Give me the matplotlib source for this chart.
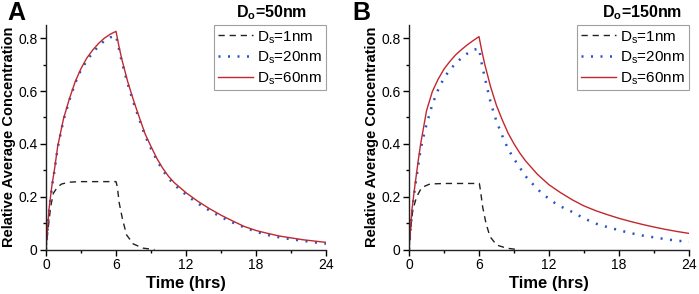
import matplotlib
matplotlib.use('Agg')
import matplotlib.pyplot as plt
from matplotlib.ticker import MultipleLocator, FuncFormatter

plt.rcParams['font.family'] = ['Liberation Sans', 'DejaVu Sans']
plt.rcParams['mathtext.fontset'] = 'custom'
plt.rcParams['mathtext.rm'] = 'Liberation Sans'
plt.rcParams['mathtext.bf'] = 'Liberation Sans:bold'

# ── Data ──────────────────────────────────────────────────────────────────────
# Panel A, Do = 50 nm
a_t1 = [0, 0.2, 0.4, 0.63, 1, 1.34, 2, 3, 4, 5, 6, 6.11, 6.28, 6.57, 6.91, 7.48, 8.34, 9.05, 9.3]
a_y1 = [0, 0.086, 0.162, 0.213, 0.237, 0.248, 0.255, 0.257, 0.257, 0.257, 0.257,
        0.238, 0.175, 0.112, 0.055, 0.021, 0.005, 0.001, 0]

a_t20 = [0, 0.25, 0.5, 0.75, 1, 1.5, 2, 2.5, 3, 3.5, 4, 4.5, 5, 5.5, 6,
         6.25, 6.5, 7, 7.5, 8, 8.5, 9, 9.5, 10, 10.5, 11, 12, 13, 14, 15, 16,
         17, 18, 19, 20, 21, 22, 23, 24]
a_y20 = [0, 0.14, 0.235, 0.305, 0.385, 0.49, 0.565, 0.63, 0.68, 0.715, 0.745, 0.77, 0.79, 0.803, 0.81,
         0.76, 0.71, 0.628, 0.556, 0.492, 0.43, 0.382, 0.338, 0.3, 0.27, 0.245, 0.207, 0.175, 0.148,
         0.123, 0.102, 0.084, 0.067, 0.055, 0.046, 0.039, 0.033, 0.027, 0.022]

a_t60 = [0, 0.25, 0.5, 0.75, 1, 1.5, 2, 2.5, 3, 3.5, 4, 4.5, 5, 5.5, 6,
         6.25, 6.5, 7, 7.5, 8, 8.5, 9, 9.5, 10, 10.5, 11, 12, 13, 14, 15, 16,
         17, 18, 19, 20, 21, 22, 23, 24]
a_y60 = [0, 0.15, 0.24, 0.31, 0.39, 0.495, 0.57, 0.635, 0.685, 0.725, 0.755, 0.78, 0.80, 0.815, 0.826,
         0.77, 0.72, 0.636, 0.565, 0.50, 0.437, 0.39, 0.345, 0.308, 0.277, 0.253, 0.215, 0.183, 0.155,
         0.13, 0.108, 0.087, 0.072, 0.061, 0.051, 0.044, 0.037, 0.032, 0.027]

# Panel B, Do = 150 nm
b_t1 = [0, 0.15, 0.32, 0.66, 1.09, 1.8, 3, 4, 5, 6.03, 6.14, 6.31, 6.6, 6.94, 7.51, 8.37, 9.1, 9.4]
b_y1 = [0, 0.08, 0.15, 0.2, 0.235, 0.248, 0.25, 0.25, 0.25, 0.25,
        0.219, 0.162, 0.099, 0.049, 0.017, 0.005, 0.001, 0]

b_t20 = [0, 0.25, 0.5, 1, 1.37, 1.6, 2, 2.5, 3, 3.5, 4, 4.5, 5, 5.5, 6,
         6.25, 6.5, 7, 7.5, 8, 8.5, 9, 9.5, 10, 10.5, 11, 11.5, 12, 12.5, 13, 14, 15, 16,
         17, 18, 19, 20, 21, 22, 23, 24]
b_y20 = [0, 0.14, 0.23, 0.38, 0.452, 0.488, 0.55, 0.605, 0.65, 0.68, 0.705, 0.725, 0.742, 0.755, 0.762,
         0.70, 0.65, 0.556, 0.485, 0.43, 0.38, 0.343, 0.31, 0.277, 0.253, 0.229, 0.209, 0.192, 0.176,
         0.163, 0.142, 0.118, 0.098, 0.085, 0.073, 0.062, 0.053, 0.046, 0.039, 0.033, 0.03]

b_t60 = [0, 0.25, 0.5, 0.8, 1, 1.5, 2, 2.5, 3, 3.5, 4, 4.5, 5, 5.5, 6,
         6.25, 6.5, 7, 7.5, 8, 8.5, 9, 9.5, 10, 11, 12, 13, 14, 15, 16,
         17, 18, 19, 20, 21, 22, 23, 24]
b_y60 = [0, 0.15, 0.24, 0.339, 0.4, 0.525, 0.598, 0.645, 0.683, 0.712, 0.737, 0.757, 0.775, 0.791, 0.806,
         0.75, 0.70, 0.615, 0.545, 0.49, 0.44, 0.40, 0.365, 0.335, 0.285, 0.245, 0.215, 0.188,
         0.165, 0.147, 0.132, 0.118, 0.106, 0.095, 0.085, 0.076, 0.068, 0.061]

panels = [
    ('A', r'D$_\mathbf{o}$=50nm', a_t1, a_y1, a_t20, a_y20, a_t60, a_y60),
    ('B', r'D$_\mathbf{o}$=150nm', b_t1, b_y1, b_t20, b_y20, b_t60, b_y60),
]
x_ticks = [0, 6, 12, 18, 24]
y_ticks = [0, 0.2, 0.4, 0.6, 0.8]

# ── Plotting ──────────────────────────────────────────────────────────────────
fig = plt.figure(figsize=(6.99, 2.94), dpi=100)
ax_left = [46 / 699, 409 / 699]
ax_w = 280 / 699
ax_b = 1 - 249.5 / 294
ax_h = (249.5 - 25) / 294
title_x = [272 / 699, 642 / 699]
letter_x = [7 / 699, 352 / 699]

for i, (letter, title, t1, y1, t20, y20, t60, y60) in enumerate(panels):
    ax = fig.add_axes([ax_left[i], ax_b, ax_w, ax_h])
    ax.plot(t1, y1, color='#222222', linewidth=1.0, linestyle=(0, (4.5, 3.5)),
            label=r'D$_\mathregular{s}$=1nm')
    ax.plot(t20, y20, color='#2555c8', linewidth=1.8, linestyle=(0, (0.8, 3.0)),
            label=r'D$_\mathregular{s}$=20nm')
    ax.plot(t60, y60, color='#c0282e', linewidth=1.0, label=r'D$_\mathregular{s}$=60nm')

    ax.set_xlim(0, 24)
    ax.set_ylim(0, 0.85)
    ax.set_xticks(x_ticks)
    ax.set_yticks(y_ticks)
    ax.xaxis.set_minor_locator(MultipleLocator(3))
    ax.yaxis.set_minor_locator(MultipleLocator(0.1))
    ax.yaxis.set_major_formatter(FuncFormatter(lambda v, p: '0' if v == 0 else f'{v:.1f}'))
    ax.tick_params(which='major', length=4, width=1, labelsize=10, pad=2)
    ax.tick_params(which='minor', length=2.5, width=1)
    for s in ['top', 'right']:
        ax.spines[s].set_visible(False)
    for s in ['left', 'bottom']:
        ax.spines[s].set_linewidth(1.0)
        ax.spines[s].set_color('#222222')

    ax.set_xlabel('Time (hrs)', fontsize=12, fontweight='bold', labelpad=3)
    ax.set_ylabel('Relative Average Concentration', fontsize=10.5, fontweight='bold', labelpad=2)

    leg = ax.legend(loc='upper right', fontsize=11, frameon=True, fancybox=False,
                    borderaxespad=0, handlelength=2.3, handletextpad=0.3,
                    labelspacing=0.25, borderpad=0.25)
    leg.get_frame().set_edgecolor('#888888')
    leg.get_frame().set_linewidth(0.8)

    fig.text(letter_x[i], 0.995, letter, fontsize=18, fontweight='bold', va='top', ha='left')
    fig.text(title_x[i], 0.99, title, fontsize=11.5, fontweight='bold', va='top', ha='center')

fig.savefig('out.png', dpi=100)
